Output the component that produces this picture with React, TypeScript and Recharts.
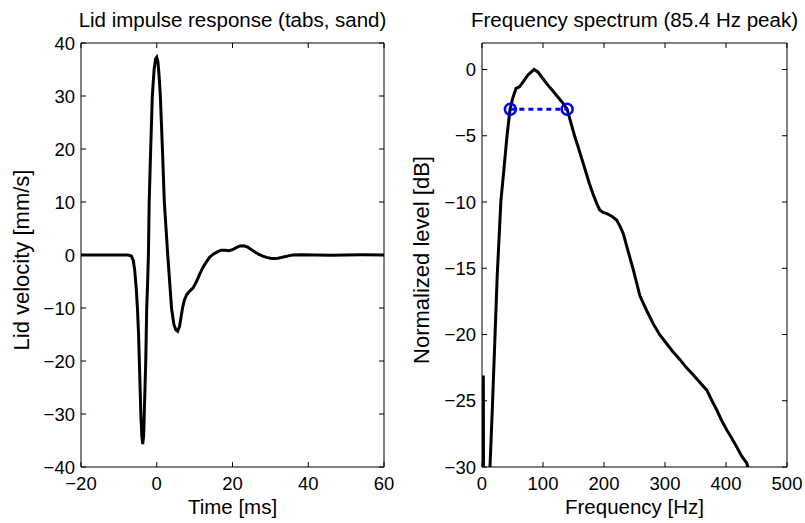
import { LineChart, Line, XAxis, YAxis } from "recharts";

// impulse response (left panel)
const impulseTime = [
  -20, -16, -12, -9, -7.5, -6.7, -6.2, -5.8, -5.4, -5.1, -4.8, -4.6, -4.4, -4.2, -3.95, -3.7, -3.45, -3.3,
  -3.1, -2.9, -2.65, -2.4, -2.2, -2, -1.8, -1.6, -1.17, -0.7, -0.3, 0, 0.3, 0.6, 0.95, 1.5, 2, 2.45, 2.9,
  3.4, 3.9, 4.5, 5, 5.5, 6, 6.4, 6.8, 7.3, 7.9, 8.7, 9.6, 10.5, 11.4, 12.3, 13.2, 14, 15, 16, 17, 18, 19,
  20, 21, 22, 23, 24, 25, 26, 27, 28, 29, 30, 31, 32, 33, 34, 35, 36, 38, 42, 46, 50, 54, 60,
];
const impulseVelocity = [
  0, 0, 0, 0, 0, -0.2, -1, -3, -6.5, -10, -15, -20, -25, -30, -34, -35.7, -34, -30,
  -25, -20, -10, -5, 0, 10, 15, 20, 30, 35, 37, 37.3, 36.5, 34, 30, 20, 10, 5, 0,
  -5, -10, -13, -14.1, -14.4, -13.5, -11.8, -10, -8.5, -7.5, -6.8, -6.2, -5, -3.5, -2.2, -1.2, -0.4, 0.2, 0.6, 0.9, 0.9, 0.8,
  1.0, 1.4, 1.7, 1.75, 1.5, 1.0, 0.5, 0.1, -0.2, -0.45, -0.6, -0.65, -0.6, -0.45, -0.3, -0.12, -0.02, 0.05, 0, -0.05, 0, 0.03, 0,
];

// normalized spectrum (right panel)
const spectrumFreq = [
  2.2, 3, 8, 13.1, 17, 21, 25, 31, 35.6, 41, 46, 50.4, 55.8, 61.4, 68, 75, 85.4, 91.5, 100, 108, 116, 124,
  132, 139.6, 145, 151.7, 158, 164, 170, 176, 182, 188, 193, 199, 204, 212, 220.7, 226, 231.5, 238.8, 248,
  259, 270, 280.8, 291, 302.8, 313, 324.6, 335, 346.5, 357, 368.5, 377, 384.9, 393, 401.3, 409, 417.7, 426,
  434, 437, 440,
];
const spectrumLevel = [
  -23.1, -48, -40, -30, -25.5, -20.5, -15.5, -9.9, -7.7, -5, -3, -2.16, -1.43, -1.31, -0.9, -0.43, 0, -0.18, -0.7, -1.18, -1.6, -2.06,
  -2.5, -3.0, -3.9, -5.0, -5.9, -6.8, -7.7, -8.6, -9.4, -10.1, -10.6, -10.8, -10.86, -11.05, -11.36, -11.8, -12.37, -13.6, -15.1,
  -17.1, -18.2, -19.2, -20.0, -20.7, -21.3, -21.9, -22.5, -23.05, -23.6, -24.2, -25.0, -25.7, -26.5, -27.2, -27.8, -28.5, -29.2,
  -29.7, -30.2, -30.6,
];

// -3 dB bandwidth markers
const halfPowerFreq = [46.5, 139.6];
const halfPowerLevel = [-3, -3];

const timeTicks = [-20, 0, 20, 40, 60];
const velocityTicks = [-40, -30, -20, -10, 0, 10, 20, 30, 40];
const freqTicks = [0, 100, 200, 300, 400, 500];
const levelTicks = [-30, -25, -20, -15, -10, -5, 0];

const impulseData = impulseTime.map((t, i) => ({ t, v: impulseVelocity[i] }));
const spectrumData = spectrumFreq.map((f, i) => ({ f, db: spectrumLevel[i] }));
const halfPowerData = halfPowerFreq.map((f, i) => ({ f, db: halfPowerLevel[i] }));

const font = "'Liberation Sans', Arial, Helvetica, sans-serif";
const tickStyle = { fill: "#000", fontSize: 18.5, fontFamily: font };
const minus = (v: number) => String(v).replace("-", "\u2212");
const blank = () => "";

// plot box: top 43, bottom 467; axes take 30 (bottom), 40 (left), 1 (top/right)
function Panel({ data, xKey, yKey, xDomain, yDomain, xTicks, yTicks, left, right, width, children }: any) {
  const common = { stroke: "#000", tickSize: -5, interval: 0 as const, allowDataOverflow: true };
  return (
    <LineChart width={width} height={523} data={data}
      margin={{ top: 42, right: right - 1, bottom: 26, left: left - 40 }}>
      <XAxis xAxisId="b" dataKey={xKey} type="number" domain={xDomain} ticks={xTicks} orientation="bottom"
        height={30} tickMargin={15} tick={tickStyle} tickFormatter={minus} {...common} />
      <XAxis xAxisId="t" dataKey={xKey} type="number" domain={xDomain} ticks={xTicks} orientation="top"
        height={1} tickFormatter={blank} {...common} />
      <YAxis yAxisId="l" type="number" domain={yDomain} ticks={yTicks} orientation="left"
        width={40} tickMargin={11} tick={tickStyle} tickFormatter={minus} {...common} />
      <YAxis yAxisId="r" type="number" domain={yDomain} ticks={yTicks} orientation="right"
        width={1} tickFormatter={blank} {...common} />
      <Line xAxisId="b" yAxisId="l" type="linear" dataKey={yKey} stroke="#000" strokeWidth={3}
        dot={false} isAnimationActive={false} />
      {children}
    </LineChart>
  );
}

export default function App() {
  return (
    <div style={{ position: "absolute", left: 0, top: 0, width: 805, height: 523, background: "#fff" }}>
      <div style={{ position: "absolute", left: 0, top: 0 }}>
        <Panel data={impulseData} xKey="t" yKey="v" xDomain={[-20, 60]} yDomain={[-40, 40]}
          xTicks={timeTicks} yTicks={velocityTicks} width={400} left={81} right={16} />
      </div>
      <div style={{ position: "absolute", left: 400, top: 0 }}>
        <Panel data={spectrumData} xKey="f" yKey="db" xDomain={[0, 500]} yDomain={[-30, 2]}
          xTicks={freqTicks} yTicks={levelTicks} width={405} left={82} right={18}>
          <Line xAxisId="b" yAxisId="l" data={halfPowerData} type="linear" dataKey="db" stroke="#0000ff"
            strokeWidth={3} strokeDasharray="5 4" isAnimationActive={false}
            dot={{ r: 5.5, stroke: "#0000ff", strokeWidth: 2.5, fill: "none", strokeDasharray: "none" }} />
        </Panel>
      </div>
      <svg width={805} height={523} style={{ position: "absolute", left: 0, top: 0, pointerEvents: "none" }}
        fontFamily={font} fill="#000">
        <text x={232.5} y={27} fontSize={20.5} textAnchor="middle">Lid impulse response (tabs, sand)</text>
        <text x={634.5} y={27} fontSize={20.5} textAnchor="middle">Frequency spectrum (85.4 Hz peak)</text>
        <text x={232.5} y={514} fontSize={20.5} textAnchor="middle">Time [ms]</text>
        <text x={634.5} y={514} fontSize={20.5} textAnchor="middle">Frequency [Hz]</text>
        <text transform="translate(29,260) rotate(-90)" fontSize={22} textAnchor="middle">Lid velocity [mm/s]</text>
        <text transform="translate(429,260) rotate(-90)" fontSize={22} textAnchor="middle">Normalized level [dB]</text>
      </svg>
    </div>
  );
}
